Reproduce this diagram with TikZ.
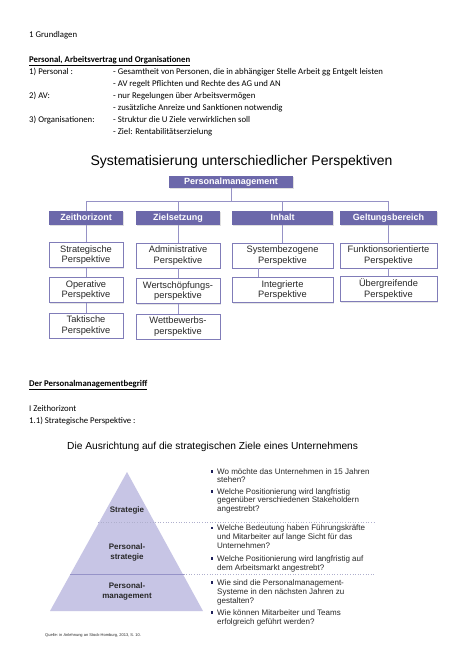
\documentclass[tikz,border=0pt]{standalone}
\usepackage{fontspec}
\setmainfont{Carlito}
\newfontfamily\arial{Liberation Sans}
\usetikzlibrary{shadows}
\definecolor{pmhead}{RGB}{108,104,170}
\definecolor{pmline}{RGB}{128,124,184}
\definecolor{pmconn}{RGB}{150,146,198}
\definecolor{pyrfill}{RGB}{199,197,229}
\definecolor{pyrsep}{RGB}{150,147,200}
\definecolor{dotc}{RGB}{175,175,205}
\definecolor{bulc}{RGB}{30,32,90}
\definecolor{btext}{RGB}{40,40,40}
\tikzset{
  txt/.style={anchor=base west, inner sep=0pt, font=\fontsize{8.75}{10}\selectfont, text=black},
  txtb/.style={txt, font=\bfseries\fontsize{8.75}{10}\selectfont},
  ttl/.style={anchor=base west, inner sep=0pt, font=\arial\fontsize{14}{16}\selectfont, text=black},
  ttlb/.style={anchor=base west, inner sep=0pt, font=\arial\fontsize{10.2}{12}\selectfont, text=black},
  lvtwo/.style={fill=pmhead, text=white, font=\arial\bfseries\fontsize{9}{10}\selectfont,
     inner sep=0pt, text height=6.6pt, text depth=1.9pt, minimum height=14pt,
     drop shadow={shadow xshift=1pt, shadow yshift=-1pt, opacity=0.25}},
  lvthree/.style={draw=pmline, fill=white, line width=0.8pt, align=center, text=btext,
     font=\arial\fontsize{9.3}{10.3}\selectfont, inner sep=0pt, minimum height=25pt,
     drop shadow={shadow xshift=1pt, shadow yshift=-1pt, opacity=0.2}},
  conn/.style={draw=pmconn, line width=0.8pt},
  bt/.style={anchor=base west, inner sep=0pt, font=\arial\fontsize{8}{9}\selectfont, text=btext},
  bsq/.style={fill=bulc, inner sep=0pt, minimum size=2.4pt},
  pyl/.style={align=center, inner sep=0pt, font=\arial\bfseries\fontsize{8}{9.5}\selectfont, text=btext},
  dotl/.style={draw=dotc, line width=0.6pt, dotted},
}
\begin{document}
\begin{tikzpicture}[x=1pt,y=-1pt]
\useasboundingbox[fill=white] (0,0) rectangle (474,670);

% ---------- top text ----------
\node[txt] (t1) at (29,37) {1 Grundlagen};
\node[txtb] (t2) at (29,62) {\underline{Personal, Arbeitsvertrag und Organisationen}};
\node[txt] (t3a) at (29,74) {1) Personal :};
\node[txt] (t3b) at (113,74) {- Gesamtheit von Personen, die in abhängiger Stelle Arbeit gg Entgelt leisten};
\node[txt] (t4b) at (113,86) {- AV regelt Pflichten und Rechte des AG und AN};
\node[txt] (t5a) at (29,98) {2) AV:};
\node[txt] (t5b) at (113,98) {- nur Regelungen über Arbeitsvermögen};
\node[txt] (t6b) at (113,110) {- zusätzliche Anreize und Sanktionen notwendig};
\node[txt] (t7a) at (29,122) {3) Organisationen:};
\node[txt] (t7b) at (113,122) {- Struktur die U Ziele verwirklichen soll};
\node[txt] (t8b) at (113,134) {- Ziel: Rentabilitätserzielung};

% ---------- org chart ----------
\node[ttl, anchor=base] (title1) at (241.5,165) {Systematisierung unterschiedlicher Perspektiven};
\node[lvtwo, minimum width=124pt, minimum height=12pt] (pm) at (231,182) {Personalmanagement};

\node[lvtwo, minimum width=74pt] (zh) at (86,218) {Zeithorizont};
\node[lvtwo, minimum width=84pt] (zs) at (178,218) {Zielsetzung};
\node[lvtwo, minimum width=101pt] (ih) at (282.5,218) {Inhalt};
\node[lvtwo, minimum width=97pt] (gb) at (388.5,218) {Geltungsbereich};

\coordinate (hj) at (231,201);
\draw[conn] (pm.south) -- (hj);
\draw[conn] (zh.north) -- (zh.north |- hj) -- (gb.north |- hj) -- (gb.north);
\draw[conn] (zs.north |- hj) -- (zs.north);
\draw[conn] (ih.north |- hj) -- (ih.north);

\node[lvthree, minimum width=74pt] (c1a) at (86,255) {Strategische\\Perspektive};
\node[lvthree, minimum width=74pt] (c1b) at (86,290) {Operative\\Perspektive};
\node[lvthree, minimum width=74pt] (c1c) at (86,325.5) {Taktische\\Perspektive};

\node[lvthree, minimum width=84pt] (c2a) at (178,255.5) {Administrative\\Perspektive};
\node[lvthree, minimum width=84pt] (c2b) at (178,291) {Wertschöpfungs-\\perspektive};
\node[lvthree, minimum width=84pt] (c2c) at (178,326.5) {Wettbewerbs-\\perspektive};

\node[lvthree, minimum width=101pt] (c3a) at (282.5,255.5) {Systembezogene\\Perspektive};
\node[lvthree, minimum width=101pt] (c3b) at (282.5,290) {Integrierte\\Perspektive};

\node[lvthree, minimum width=97pt] (c4a) at (388.5,255.5) {Funktionsorientierte\\Perspektive};
\node[lvthree, minimum width=97pt] (c4b) at (388.5,289) {Übergreifende\\Perspektive};

\draw[conn] (zh.south) -- (c1a.north);
\draw[conn] (zs.south) -- (c2a.north);
\draw[conn] (ih.south) -- (c3a.north);
\draw[conn] (gb.south) -- (c4a.north);
\draw[conn] (c1a.south) -- (c1b.north);
\draw[conn] (c1b.south) -- (c1c.north);
\draw[conn] (c2a.south) -- (c2b.north);
\draw[conn] (c2b.south) -- (c2c.north);
\draw[conn] ([xshift=-24.5pt]c3a.south) -- ([xshift=-24.5pt]c3b.north);
\draw[conn] (c4a.south) -- (c4b.north);

% ---------- middle text ----------
\node[txtb] (m1) at (29,386) {\underline{Der Personalmanagementbegriff}};
\node[txt] (m2) at (29,411) {I Zeithorizont};
\node[txt] (m3) at (29,423) {1.1) Strategische Perspektive :};

% ---------- pyramid ----------
\node[ttlb] (title2) at (67,449.5) {Die Ausrichtung auf die strategischen Ziele eines Unternehmens};

\fill[pyrfill] (127,472) -- (203,611) -- (50,611) -- cycle;
\draw[dotl] (98,522) -- (375,522);
\draw[draw=pyrsep, line width=0.7pt] (70.4,574) -- (183.6,574);
\draw[dotl] (183.6,574) -- (375,574);

\node[pyl] (p1) at (127,510) {Strategie};
\node[pyl] (p2) at (127,552.5) {Personal-\\strategie};
\node[pyl] (p3) at (127,591.5) {Personal-\\management};

% bullets
\node[bsq] (q1) at (212,471.5) {};
\node[bt] (b1a) at (217,474) {Wo möchte das Unternehmen in 15 Jahren};
\node[bt] (b1b) at (217,482.5) {stehen?};
\node[bsq] (q2) at (212,491.5) {};
\node[bt] (b2a) at (217,494) {Welche Positionierung wird langfristig};
\node[bt] (b2b) at (217,502.5) {gegenüber verschiedenen Stakeholdern};
\node[bt] (b2c) at (217,511) {angestrebt?};

\node[bsq] (q3) at (212,528) {};
\node[bt] (b3a) at (217,530.5) {Welche Bedeutung haben Führungskräfte};
\node[bt] (b3b) at (217,539.5) {und Mitarbeiter auf lange Sicht für das};
\node[bt] (b3c) at (217,548.5) {Unternehmen?};
\node[bsq] (q4) at (212,558.5) {};
\node[bt] (b4a) at (217,561) {Welche Positionierung wird langfristig auf};
\node[bt] (b4b) at (217,570) {dem Arbeitsmarkt angestrebt?};

\node[bsq] (q5) at (212,582.5) {};
\node[bt] (b5a) at (217,585) {Wie sind die Personalmanagement-};
\node[bt] (b5b) at (217,594) {Systeme in den nächsten Jahren zu};
\node[bt] (b5c) at (217,603) {gestalten?};
\node[bsq] (q6) at (212,612.5) {};
\node[bt] (b6a) at (217,615) {Wie können Mitarbeiter und Teams};
\node[bt] (b6b) at (217,624) {erfolgreich geführt werden?};

\node[anchor=base west, inner sep=0pt, font=\arial\fontsize{4}{5}\selectfont, text=btext] (src) at (45,636) {Quelle: in Anlehnung an Stock-Homburg, 2013, S. 10.};
\end{tikzpicture}
\end{document}
